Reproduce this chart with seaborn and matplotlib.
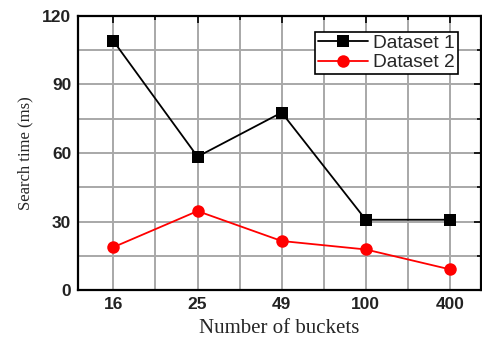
import matplotlib
matplotlib.use("Agg")
import matplotlib.pyplot as plt
import seaborn as sns
import pandas as pd
from matplotlib.ticker import MultipleLocator

buckets = ["16", "25", "49", "100", "400"]
dataset1 = [109, 58.4, 77.7, 30.8, 30.8]
dataset2 = [18.8, 34.6, 21.5, 17.8, 9.1]
series_names = ["Dataset 1", "Dataset 2"]

sns.set_theme(style="white")
plt.rcParams['font.family'] = ['Liberation Sans', 'DejaVu Sans']

df = pd.DataFrame({
    "pos": list(range(len(buckets))) * 2,
    "value": dataset1 + dataset2,
    "series": [series_names[0]] * len(buckets) + [series_names[1]] * len(buckets),
})

fig = plt.figure(figsize=(4.82, 3.45), dpi=100)
ax = fig.add_axes([0.162, 0.159, 0.836, 0.795])

sns.lineplot(data=df, x="pos", y="value", hue="series", style="series",
             palette={"Dataset 1": "black", "Dataset 2": "#ff0000"},
             markers={"Dataset 1": "s", "Dataset 2": "o"}, dashes=False,
             markersize=9, linewidth=1.3, markeredgewidth=0, ax=ax, zorder=3)

ax.set_xlim(-0.42, 4.37)
ax.set_ylim(0, 120)
ax.set_xticks(range(len(buckets)))
ax.set_xticklabels(buckets)
ax.xaxis.set_minor_locator(MultipleLocator(0.5))
ax.yaxis.set_major_locator(MultipleLocator(30))
ax.yaxis.set_minor_locator(MultipleLocator(15))

ax.grid(True, which="both", color="#a8a8a8", linewidth=1.4)
ax.set_axisbelow(True)
for s in ax.spines.values():
    s.set_color("black")
    s.set_linewidth(1.6)

ax.tick_params(axis="both", which="both", direction="in", top=True, right=True,
               color="black", width=1.2)
ax.tick_params(which="major", length=5, labelsize=12.5, pad=5)
ax.tick_params(which="minor", length=3)
for lbl in ax.get_xticklabels() + ax.get_yticklabels():
    lbl.set_fontweight("bold")
    lbl.set_color("#222222")

ax.set_xlabel("Number of buckets", family=["Liberation Serif"], fontsize=15, labelpad=5)
ax.set_ylabel("Search time (ms)", family=["Liberation Serif"], fontsize=12, labelpad=6)

leg = ax.legend(loc="upper right", bbox_to_anchor=(0.943, 0.942), fontsize=13.8,
                frameon=True, fancybox=False, handlelength=2.6, borderpad=0.15,
                labelspacing=0.1, handletextpad=0.3, borderaxespad=0)
leg.get_frame().set_edgecolor("black")
leg.get_frame().set_linewidth(1.2)
leg.get_frame().set_alpha(1)

fig.savefig("out.png", dpi=100)
